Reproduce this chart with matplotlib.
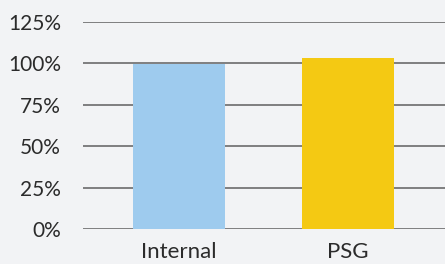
import matplotlib
matplotlib.use('Agg')
from matplotlib import pyplot as plt

categories = ['Internal', 'PSG']
values = [99.5, 103.5]
colors = ['#9ecbee', '#f4c913']
yticks = [0, 25, 50, 75, 100, 125]
ylabels = ['0%', '25%', '50%', '75%', '100%', '125%']

bg = '#f2f3f5'
plt.rcParams['font.family'] = ['Lato', 'DejaVu Sans']

fig = plt.figure(figsize=(4.45, 2.64), dpi=100, facecolor=bg)
ax = fig.add_axes([83/445, 1 - 229/264, 362/445, (229 - 22)/264])
ax.set_facecolor(bg)

ax.set_ylim(0, 125)
ax.set_xlim(-0.567, 1.572)
ax.set_yticks(yticks)
ax.set_yticklabels(ylabels)
ax.yaxis.grid(True, color='#6b6b6b', linewidth=1.2)
ax.set_axisbelow(True)

x = range(len(categories))
ax.bar(x, values, width=0.545, color=colors, zorder=3)
ax.set_xticks(list(x))
ax.set_xticklabels(categories)

for s in ax.spines.values():
    s.set_visible(False)
ax.tick_params(axis='both', length=0, colors='#2b2b2b')
ax.tick_params(axis='y', pad=16, labelsize=15)
ax.tick_params(axis='x', pad=9, labelsize=16)

fig.savefig('out.png', dpi=100, facecolor=bg)
